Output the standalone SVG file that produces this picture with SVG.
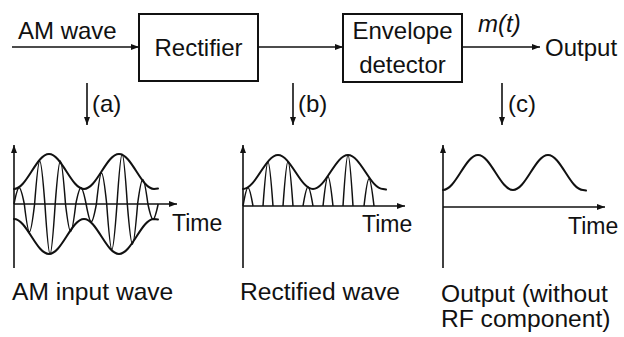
<svg xmlns="http://www.w3.org/2000/svg" width="624" height="337" viewBox="0 0 624 337">
<style>
text{font-family:"Liberation Sans",Arial,Helvetica,sans-serif;font-size:24px;fill:#111}
.box{fill:#fff;stroke:#111;stroke-width:2}
.ln{fill:none;stroke:#111;stroke-width:1.6}
.wv{fill:none;stroke:#111;stroke-width:2;stroke-linecap:round;stroke-linejoin:round}
.cw{fill:none;stroke:#111;stroke-width:1.5}
.mid{text-anchor:middle}
.tm{font-size:23px}
.cap{font-size:24.6px}
</style>
<defs>
<marker id="ah" viewBox="0 0 8 6" refX="8" refY="3" markerWidth="8" markerHeight="6" markerUnits="userSpaceOnUse" orient="auto">
<path d="M0,0 L8,3 L0,6 z" fill="#111"/>
</marker>
</defs>
<rect width="624" height="337" fill="#fff"/>

<g id="input-label"><text x="18" y="39">AM wave</text></g>
<g id="rectifier"><rect class="box" x="139" y="14" width="119" height="67"/><text class="mid" x="198.5" y="56">Rectifier</text></g>
<g id="envelope-detector"><rect class="box" x="343" y="14" width="119" height="68"/><text class="mid" x="402.5" y="39">Envelope</text><text class="mid" x="402.5" y="73">detector</text></g>
<g id="output-label"><text x="478" y="32" font-style="italic">m(t)</text><text x="545" y="56">Output</text></g>

<g id="connectors">
<line class="ln" x1="12" y1="47" x2="139" y2="47" marker-end="url(#ah)"/>
<line class="ln" x1="258" y1="47" x2="343" y2="47" marker-end="url(#ah)"/>
<line class="ln" x1="462" y1="47" x2="540" y2="47" marker-end="url(#ah)"/>
<line class="ln" x1="87" y1="83" x2="87" y2="125" marker-end="url(#ah)"/>
<line class="ln" x1="293" y1="83" x2="293" y2="125" marker-end="url(#ah)"/>
<line class="ln" x1="502" y1="83" x2="502" y2="125" marker-end="url(#ah)"/>
</g>
<g id="tap-labels"><text x="92" y="112">(a)</text><text x="298" y="112">(b)</text><text x="508" y="112">(c)</text></g>

<g id="graph-a" transform="translate(14,204)">
<line class="ln" x1="0" y1="64" x2="0" y2="-59" marker-end="url(#ah)"/>
<line class="ln" x1="0" y1="0" x2="163" y2="0" marker-end="url(#ah)"/>
<path class="wv" d="M0,-15 C12.7,-15 22.3,-50 35,-50 C47.7,-50 57.3,-15 70,-15 C82.7,-15 92.3,-50 105,-50 C117.7,-50 127.3,-15 140,-15 L144,-15.5"/>
<path class="wv" d="M0,15 C12.7,15 22.3,50 35,50 C47.7,50 57.3,15 70,15 C82.7,15 92.3,50 105,50 C117.7,50 127.3,15 140,15 L144,15.5"/>
<path class="cw" d="M0,0 c4.37,-21.6 5.93,-21.6 10.3,0 c4.37,37.1 5.93,37.1 10.3,0 c4.37,-57.5 5.93,-57.5 10.3,0 c4.37,66.7 5.93,66.7 10.3,0 c4.37,-57.2 5.93,-57.2 10.3,0 c4.37,36.8 5.93,36.8 10.3,0 c4.37,-21.6 5.93,-21.6 10.3,0 c4.37,23.6 5.93,23.6 10.3,0 c4.37,-41.3 5.93,-41.3 10.3,0 c4.37,60.7 5.93,60.7 10.3,0 c4.37,-66.3 5.93,-66.3 10.3,0 c4.37,53.5 5.93,53.5 10.3,0 c4.37,-32.7 5.93,-32.7 10.3,0 c4.37,20.4 5.93,20.4 10.3,0"/>
</g>
<text class="tm" x="172" y="231">Time</text>

<g id="graph-b" transform="translate(243,206)">
<line class="ln" x1="0" y1="62" x2="0" y2="-61" marker-end="url(#ah)"/>
<line class="ln" x1="0" y1="0" x2="162" y2="0" marker-end="url(#ah)"/>
<path class="wv" d="M0,-17 C12.7,-17 22.3,-51 35,-51 C47.7,-51 57.3,-17 70,-17 C82.7,-17 92.3,-51 105,-51 C117.7,-51 127.3,-17 140,-17 L143,-16.5"/>
<path class="cw" d="M0,0 c4.24,-24.5 5.76,-24.5 10,0 M20,0 c4.24,-58.7 5.76,-58.7 10,0 M40,0 c4.24,-59.5 5.76,-59.5 10,0 M60,0 c4.24,-25.3 5.76,-25.3 10,0 M80,0 c4.24,-39.3 5.76,-39.3 10,0 M100,0 c4.24,-68 5.76,-68 10,0 M121,0 c4.24,-36.4 5.76,-36.4 10,0"/>
</g>
<text class="tm" x="362" y="232">Time</text>

<g id="graph-c" transform="translate(443,207)">
<line class="ln" x1="0" y1="61" x2="0" y2="-62" marker-end="url(#ah)"/>
<line class="ln" x1="0" y1="0" x2="162" y2="0" marker-end="url(#ah)"/>
<path class="wv" d="M0,-17 C12.7,-17 22.3,-52 35,-52 C47.7,-52 57.3,-17 70,-17 C82.7,-17 92.3,-52 105,-52 C117.7,-52 127.3,-17 140,-17 L143,-16.5"/>
</g>
<text class="tm" x="568" y="234">Time</text>

<g id="captions">
<text class="cap" x="12" y="300">AM input wave</text>
<text class="cap" x="240" y="300">Rectified wave</text>
<text class="cap" x="441" y="302">Output (without</text>
<text class="cap" x="441" y="327">RF component)</text>
</g>
</svg>
